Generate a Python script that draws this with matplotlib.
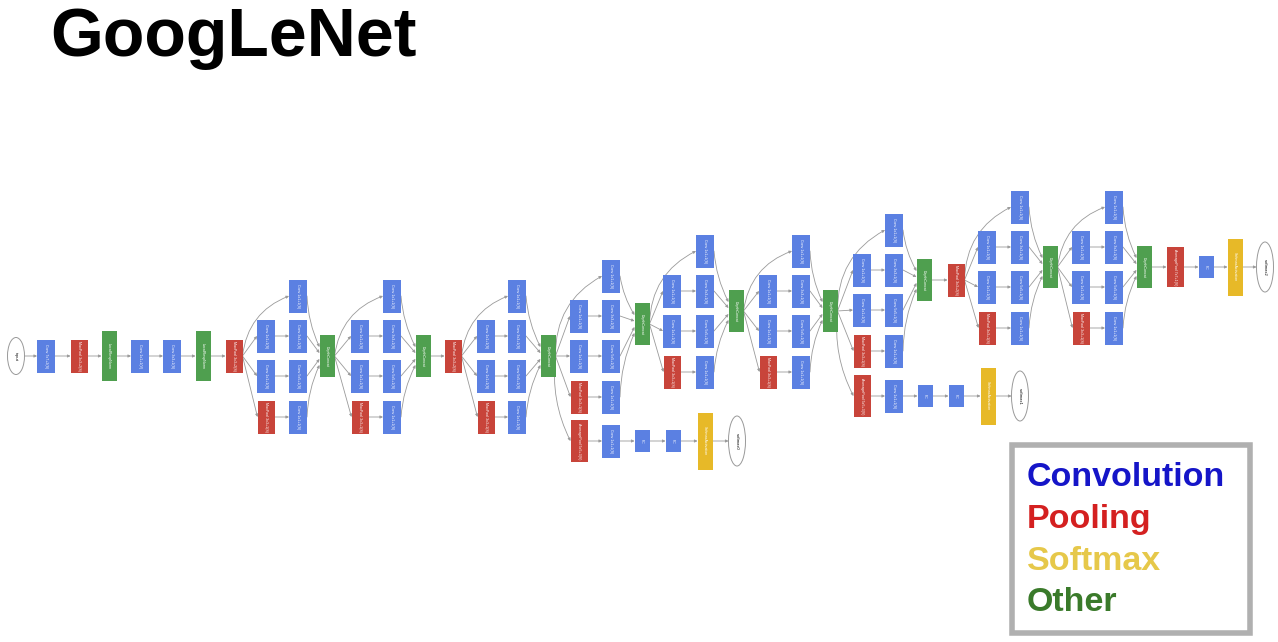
import matplotlib.pyplot as plt
from matplotlib.patches import Rectangle, Ellipse

plt.rcParams['font.family'] = ['Liberation Sans', 'DejaVu Sans']

COLORS = {"conv": "#5b80e2", "pool": "#c8443a", "other": "#4f9f4f", "soft": "#e7b928"}

# stem: (kind, x, label)
stem_kinds = ["conv", "pool", "other", "conv", "conv", "other", "pool"]
stem_x = [46, 79, 109, 140, 172, 203, 234]
stem_labels = ["Conv 7x7+2(S)", "MaxPool 3x3+2(S)", "LocalRespNorm", "Conv 1x1+1(V)",
               "Conv 3x3+1(S)", "LocalRespNorm", "MaxPool 3x3+2(S)"]
stem_y = 356

# inception modules: col1 x, col2 x, concat x, top row y, concat y
module_names = ["3a", "3b", "4a", "4b", "4c", "4d", "4e", "5a", "5b"]
col1_x = [266, 360, 486, 579, 672, 768, 862, 987, 1081]
col2_x = [298, 392, 517, 611, 705, 801, 894, 1020, 1114]
concat_x = [327, 423, 548, 642, 736, 830, 924, 1050, 1144]
top_y = [296, 296, 296, 276, 251, 251, 230, 207, 207]
concat_y = [356, 356, 356, 324, 311, 311, 280, 267, 267]
row_offsets = [0, 40, 80, 121]

# pooling between modules (after module index)
mid_pool = {1: (453, 356), 6: (956, 280)}

# auxiliary heads: source module, y, x positions of avgpool, conv, fc, fc, softmax, output
aux_src = [2, 5]
aux_y = [441, 396]
aux_x = [[579, 611, 642, 673, 705, 737], [862, 894, 925, 956, 988, 1020]]
aux_names = ["softmax0", "softmax1"]

# final head
head_x = [1175, 1206, 1235, 1265]
head_y = 267

legend_items = ["Convolution", "Pooling", "Softmax", "Other"]
legend_colors = ["#1515c8", "#d42020", "#e6c84a", "#3a7a2a"]

fig = plt.figure(figsize=(12.78, 6.42), dpi=100)
ax = fig.add_axes([0, 0, 1, 1])
ax.set_xlim(0, 1278)
ax.set_ylim(642, 0)
ax.axis("off")

SIZES = {"conv": (18, 33), "pool": (17, 33), "other": (15, 42), "soft": (15, 57), "fc": (15, 22)}


def box(x, y, kind, label, h=None):
    w, hh = SIZES[kind]
    if h is not None:
        hh = h
    color = COLORS["conv"] if kind == "fc" else COLORS[kind]
    ax.add_patch(Rectangle((x - w / 2, y - hh / 2), w, hh, facecolor=color, edgecolor="none", zorder=3))
    ax.text(x, y, label, rotation=-90, color="white", fontsize=2.6, ha="center", va="center",
            zorder=4, linespacing=1.0)
    return (x - w / 2, x + w / 2)


def out_node(x, y, label, h=50):
    ax.add_patch(Ellipse((x, y), 17, h, facecolor="white", edgecolor="#999999", lw=0.7, zorder=3))
    ax.text(x, y, label, rotation=-90, fontsize=3, ha="center", va="center", zorder=4)


def edge(x1, y1, x2, y2, rad=0.0):
    ax.annotate("", xy=(x2, y2), xytext=(x1, y1),
                arrowprops=dict(arrowstyle="-|>", color="#9a9a9a", lw=0.6, mutation_scale=4,
                                shrinkA=0, shrinkB=0, connectionstyle=f"arc3,rad={rad}"),
                zorder=2)


# title
ax.text(50, 38, "GoogLeNet", fontsize=49, fontweight="bold", ha="left", va="center")

# stem
out_node(16, stem_y, "input", h=37)
prev = (24, stem_y)
for k, x, lab in zip(stem_kinds, stem_x, stem_labels):
    h = 50 if k == "other" else None
    l, r = box(x, stem_y, k, lab, h)
    edge(prev[0], prev[1], l, stem_y)
    prev = (r, stem_y)

for i in range(len(module_names)):
    rows = [top_y[i] + o for o in row_offsets]
    cy = concat_y[i]
    # col2
    c2 = []
    for j, ry in enumerate(rows):
        lab = ["Conv 1x1+1(S)", "Conv 3x3+1(S)", "Conv 5x5+1(S)", "Conv 1x1+1(S)"][j]
        c2.append(box(col2_x[i], ry, "conv", lab))
    # col1
    for j, ry in enumerate(rows[1:]):
        kind = "pool" if j == 2 else "conv"
        lab = "MaxPool 3x3+1(S)" if kind == "pool" else "Conv 1x1+1(S)"
        l, r = box(col1_x[i], ry, kind, lab)
        edge(prev[0], prev[1], l, ry, rad=0.0)
        edge(r, ry, c2[j + 1][0], ry)
    edge(prev[0], prev[1], c2[0][0], rows[0], rad=-0.3)
    l, r = box(concat_x[i], cy, "other", "DepthConcat")
    for j, ry in enumerate(rows):
        edge(c2[j][1], ry, l, cy + (j - 1.5) * 6, rad=0.1 if j == 0 else (-0.1 if j == 3 else 0))
    prev = (r, cy)
    if i in aux_src:
        a = aux_src.index(i)
        ay = aux_y[a]
        xs = aux_x[a]
        p = prev
        kinds = ["pool", "conv", "fc", "fc", "soft"]
        labs = ["AveragePool 5x5+3(V)", "Conv 1x1+1(S)", "FC", "FC", "SoftmaxActivation"]
        for k, x, lab in zip(kinds, xs[:5], labs):
            h = 42 if k == "pool" else None
            l2, r2 = box(x, ay, k, lab, h)
            edge(p[0], p[1], l2, ay, rad=0.15 if k == "pool" else 0)
            p = (r2, ay)
        out_node(xs[5], ay, aux_names[a])
        edge(p[0], ay, xs[5] - 8.5, ay)
    if i in mid_pool:
        mx, my = mid_pool[i]
        l, r = box(mx, my, "pool", "MaxPool 3x3+2(S)")
        edge(prev[0], prev[1], l, my)
        prev = (r, my)

# final head
p = prev
for k, x, lab in zip(["pool", "fc", "soft"], head_x[:3], ["AveragePool 7x7+1(V)", "FC", "SoftmaxActivation"]):
    h = 40 if k == "pool" else None
    l, r = box(x, head_y, k, lab, h)
    edge(p[0], p[1], l, head_y)
    p = (r, head_y)
out_node(head_x[3], head_y, "softmax2")
edge(p[0], head_y, head_x[3] - 8.5, head_y)

# legend box
ax.add_patch(Rectangle((1012, 445), 238, 188, facecolor="white", edgecolor="#b0b0b0", lw=4, zorder=5))
for j, (t, c) in enumerate(zip(legend_items, legend_colors)):
    ax.text(1027, 478 + j * 41.5, t, color=c, fontsize=24.5, fontweight="bold", ha="left",
            va="center", zorder=6)

fig.savefig("out.png", dpi=100)
